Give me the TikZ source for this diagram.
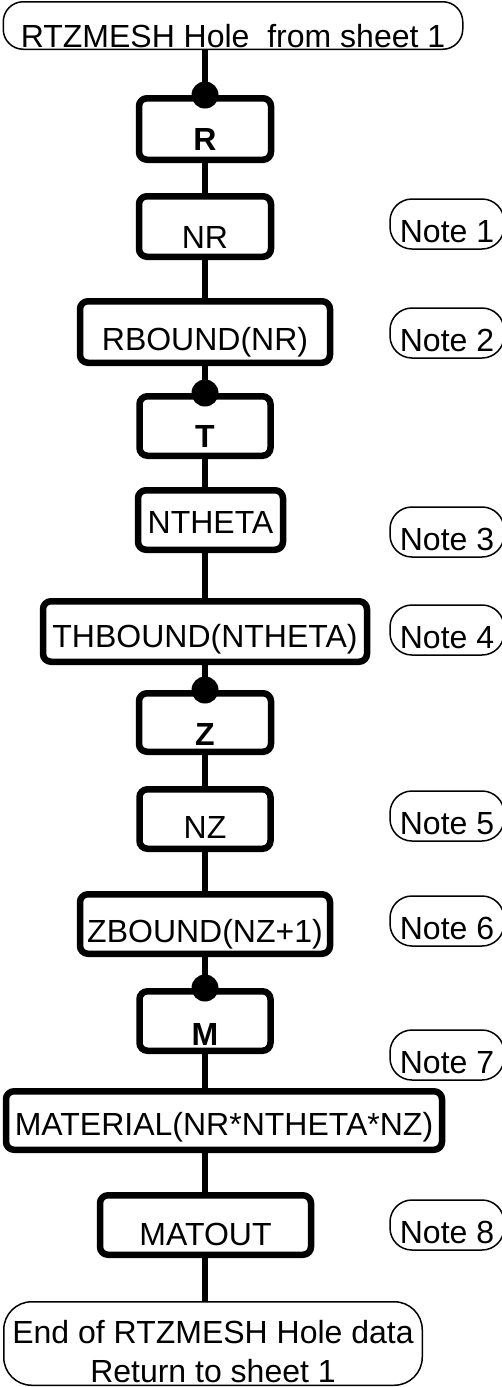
\documentclass[tikz,border=0pt]{standalone}
\usepackage{fontspec}
\setmainfont{Liberation Sans}

\tikzset{
  box/.style={draw,line width=6.5pt,rounded corners=8pt,inner sep=0pt,
    text depth=0pt,text height=#1},
  box/.default=36pt,
  term/.style={draw,line width=1.5pt,inner sep=0pt,text depth=0pt},
  note/.style={draw,line width=1.5pt,rounded corners=22pt,inner sep=0pt,
    minimum width=114pt,minimum height=50pt,text depth=0pt,text height=36pt},
  wire/.style={line width=6pt}
}

\begin{document}
\begin{tikzpicture}[x=1pt,y=-1pt,font=\fontsize{32}{37}\selectfont]
      \useasboundingbox (0,0) rectangle (501,1387);
      \coordinate (spine) at (205,0);

      \node[term,rounded corners=20pt,minimum width=459.5pt,minimum height=47.5pt,text height=43pt]
        (start) at (233,25.5) {RTZMESH Hole~ from sheet 1};

      \node[box=42pt,minimum width=132pt,minimum height=61.5pt] (R) at (205,129) {\bfseries R};
      \node[box=43pt,minimum width=132pt,minimum height=60.5pt] (NR) at (205,226.5) {NR};
      \node[box=36pt,minimum width=250pt,minimum height=61.5pt] (RB) at (205,332) {RBOUND(NR)};
      \node[box=42pt,minimum width=131pt,minimum height=59.5pt] (T) at (205,426) {\bfseries T};
      \node[box=26pt,minimum width=145pt,minimum height=59.5pt] (NT) at (210.5,520) {NTHETA};
      \node[box=31pt,minimum width=324pt,minimum height=60.5pt] (THB) at (205,631.5) {THBOUND(NTHETA)};
      \node[box=45pt,minimum width=132pt,minimum height=58.5pt] (Z) at (205,722.5) {\bfseries Z};
      \node[box=38pt,minimum width=131pt,minimum height=59.5pt] (NZ) at (205,819) {NZ};
      \node[box=36pt,minimum width=250pt,minimum height=59.5pt] (ZB) at (205,924) {ZBOUND(NZ+1)};
      \node[box=48pt,minimum width=131pt,minimum height=59.5pt] (M) at (205,1021) {\bfseries M};
      \node[box=29pt,minimum width=436pt,minimum height=58.5pt] (MAT) at (224,1120.5) {MATERIAL(NR*NTHETA*NZ)};
      \node[box=40pt,minimum width=211pt,minimum height=59.5pt] (MO) at (205.5,1225) {MATOUT};

      \node[term,rounded corners=28pt,minimum width=418.5pt,minimum height=83.5pt,text height=77pt,
        font=\fontsize{32}{39}\selectfont]
        (end) at (213,1343.5) {\begin{tabular}[b]{@{}c@{}}End of RTZMESH Hole data\\Return to sheet 1\end{tabular}};

      \foreach \a/\b in {start/R,R/NR,NR/RB,RB/T,T/NT,NT/THB,THB/Z,Z/NZ,NZ/ZB,ZB/M,M/MAT,MAT/MO,MO/end}
        \draw[wire] (\a.south -| spine) -- (\b.north -| spine);
      \foreach \n in {R,T,Z,M}
        \fill (\n.north) circle (13.5pt);

      \foreach \i/\y in {1/224,2/333,3/532,4/630,5/816,6/921,7/1055,8/1225}
        \node[note] (note\i) at (447,\y) {Note \i};
    \end{tikzpicture}
\end{document}
